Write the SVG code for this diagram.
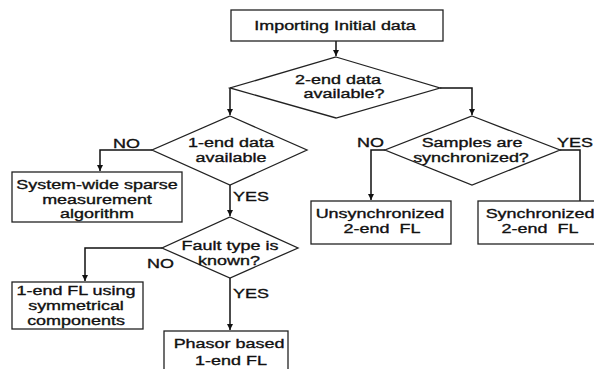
<svg xmlns="http://www.w3.org/2000/svg" width="594" height="369" viewBox="0 0 594 369">
<defs>
<style>
.bx{fill:#fff;stroke:#222;stroke-width:1.3}
.ln{fill:none;stroke:#111;stroke-width:1.5}
text{font-family:"Liberation Sans",Arial,sans-serif;font-size:13.5px;fill:#111;stroke:#111;stroke-width:0.35}
.c{text-anchor:middle}
</style>
<marker id="ah" viewBox="0 0 10 10" refX="10" refY="5" markerWidth="6" markerHeight="6" markerUnits="userSpaceOnUse" orient="auto">
<path d="M0,0 L10,5 L0,10 z" fill="#111"/>
</marker>
</defs>
<rect width="594" height="369" fill="#fff"/>

<g id="connectors">
<path class="ln" d="M336,41 V56" marker-end="url(#ah)"/>
<path class="ln" d="M230,88 V115" marker-end="url(#ah)"/>
<path class="ln" d="M440,88 H472 V115" marker-end="url(#ah)"/>
<path class="ln" d="M152,150 H100 V171" marker-end="url(#ah)"/>
<path class="ln" d="M230,185 V216" marker-end="url(#ah)"/>
<path class="ln" d="M162,248 H85 V281" marker-end="url(#ah)"/>
<path class="ln" d="M230,278 V330" marker-end="url(#ah)"/>
<path class="ln" d="M385,150 H371 V200" marker-end="url(#ah)"/>
<path class="ln" d="M560,150 H580 V201"/>
</g>

<g id="start">
<rect class="bx" x="231" y="10" width="212" height="31"/>
<text class="c" transform="translate(335 30) scale(1.33 1)">Importing Initial data</text>
</g>

<g id="d-2end">
<polygon class="bx" points="336,57 440,88 336,118 230,88"/>
<text class="c" transform="translate(338 84) scale(1.33 1)">2-end data</text>
<text class="c" transform="translate(344 98) scale(1.33 1)">available?</text>
</g>

<g id="d-1end">
<polygon class="bx" points="230,116 307,150 230,185 152,150"/>
<text class="c" transform="translate(231 147) scale(1.33 1)">1-end data</text>
<text class="c" transform="translate(231 162) scale(1.33 1)">available</text>
<text transform="translate(113 148) scale(1.33 1)">NO</text>
<text transform="translate(233 201) scale(1.33 1)">YES</text>
</g>

<g id="sparse">
<rect class="bx" x="12" y="172" width="170" height="50"/>
<text class="c" transform="translate(97 189) scale(1.33 1)">System-wide sparse</text>
<text class="c" transform="translate(97 204) scale(1.33 1)">measurement</text>
<text class="c" transform="translate(97 218) scale(1.33 1)">algorithm</text>
</g>

<g id="d-fault">
<polygon class="bx" points="230,217 298,248 230,278 162,248"/>
<text class="c" transform="translate(230 250) scale(1.33 1)">Fault type is</text>
<text class="c" transform="translate(229 265) scale(1.33 1)">known?</text>
<text transform="translate(147 268) scale(1.33 1)">NO</text>
<text transform="translate(233 298) scale(1.33 1)">YES</text>
</g>

<g id="sym">
<rect class="bx" x="12" y="282" width="131" height="47"/>
<text class="c" transform="translate(76 295) scale(1.33 1)">1-end FL using</text>
<text class="c" transform="translate(76 310) scale(1.33 1)">symmetrical</text>
<text class="c" transform="translate(76 325) scale(1.33 1)">components</text>
</g>

<g id="phasor">
<rect class="bx" x="164" y="331" width="124" height="45"/>
<text class="c" transform="translate(229 348) scale(1.33 1)">Phasor based</text>
<text class="c" transform="translate(231 365) scale(1.33 1)">1-end FL</text>
</g>

<g id="d-sync">
<polygon class="bx" points="472,116 560,150 472,185 385,150"/>
<text class="c" transform="translate(472 147) scale(1.33 1)">Samples are</text>
<text class="c" transform="translate(471 162) scale(1.33 1)">synchronized?</text>
<text transform="translate(357 147) scale(1.33 1)">NO</text>
<text transform="translate(557 147) scale(1.33 1)">YES</text>
</g>

<g id="unsync">
<rect class="bx" x="311" y="201" width="140" height="43"/>
<text class="c" transform="translate(380 218) scale(1.33 1)">Unsynchronized</text>
<text class="c" transform="translate(382 233) scale(1.33 1)" xml:space="preserve">2-end  FL</text>
</g>

<g id="sync">
<rect class="bx" x="478" y="201" width="124" height="43"/>
<text class="c" transform="translate(540 218) scale(1.33 1)">Synchronized</text>
<text class="c" transform="translate(540 233) scale(1.33 1)" xml:space="preserve">2-end  FL</text>
</g>
</svg>
